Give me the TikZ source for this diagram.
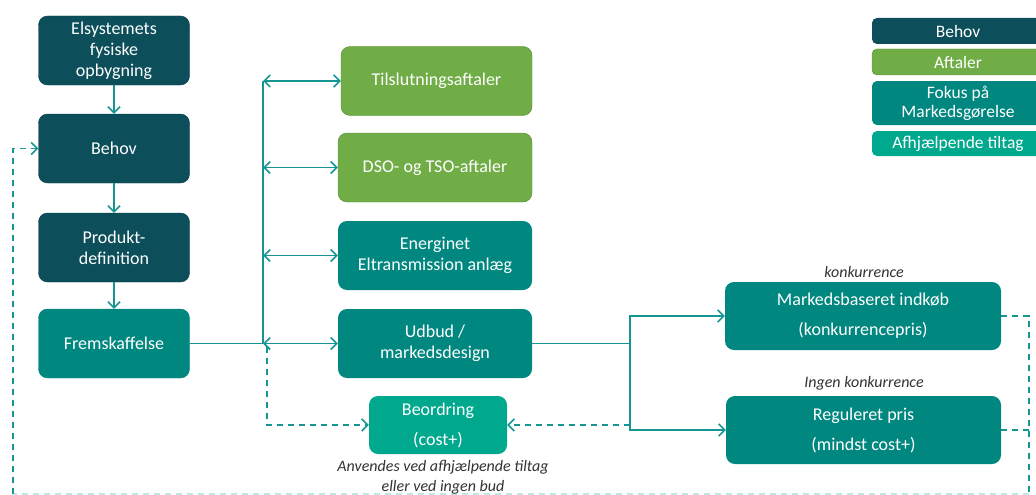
\documentclass[tikz,border=0pt]{standalone}
\usepackage{fontspec}
\setmainfont{Carlito}
\usetikzlibrary{arrows.meta}

\definecolor{behovc}{RGB}{12,78,90}
\definecolor{aftalec}{RGB}{112,173,71}
\definecolor{aftaleb}{RGB}{84,140,52}
\definecolor{fokusc}{RGB}{0,135,127}
\definecolor{tiltagc}{RGB}{0,168,142}
\definecolor{linec}{RGB}{22,150,146}
\definecolor{notec}{RGB}{50,50,50}

\begin{document}
\begin{tikzpicture}[x=1pt, y=-1pt,
    box/.style={rounded corners=9pt, text=white, align=center, inner sep=0pt, font=\fontsize{18}{21}\selectfont},
    behov/.style={box, fill=behovc, draw=behovc!80!black, minimum width=151pt, minimum height=69pt},
    aftale/.style={box, fill=aftalec, draw=aftaleb, minimum width=194pt, minimum height=69pt},
    fokus/.style={box, fill=fokusc, minimum width=194pt, minimum height=69pt},
    tiltag/.style={box, fill=tiltagc, minimum width=138pt, minimum height=58pt},
    legend/.style={rounded corners=5pt, text=white, inner sep=0pt, minimum width=172pt, align=center, font=\fontsize{17.5}{19}\selectfont},
    note/.style={text=notec, font=\fontsize{16}{20}\selectfont\itshape, align=center},
    conn/.style={draw=linec, line width=1.6pt, arrows={-Straight Barb[length=6pt, width=12pt]}},
    twoway/.style={conn, arrows={Straight Barb[length=6pt, width=12pt]-Straight Barb[length=6pt, width=12pt]}},
    plain/.style={draw=linec, line width=1.6pt},
    dashline/.style={draw=linec, line width=1.6pt, dash pattern=on 6pt off 5pt}]
  \useasboundingbox (0,0) rectangle (1036,495);

  % left column
  \node[behov] (fysik) at (114,50.5) {Elsystemets\\fysiske\\opbygning};
  \node[behov] (behov) at (114,148.5) {Behov};
  \node[behov] (produkt) at (114,247.5) {Produkt-\\definition};
  \node[behov, fill=fokusc, draw=fokusc] (frem) at (114,343.5) {Fremskaffelse};

  \draw[conn] (fysik) -- (behov);
  \draw[conn] (behov) -- (produkt);
  \draw[conn] (produkt) -- (frem);

  % middle column
  \node[aftale, minimum width=191pt] (tilslut) at (436.5,81) {Tilslutningsaftaler};
  \node[aftale] (dsotso) at (435,167.5) {DSO- og TSO-aftaler};
  \node[fokus] (energinet) at (435,255.5) {Energinet\\Eltransmission anlæg};
  \node[fokus] (udbud) at (435,343.5) {Udbud /\\markedsdesign};
  \node[tiltag, font=\fontsize{18}{30}\selectfont] (beord) at (438,425) {Beordring\\(cost+)};
  \node[note] (anvend) at (443,477) {Anvendes ved afhjælpende tiltag\\eller ved ingen bud};

  \coordinate (trunk) at (263,343.5);
  \draw[plain] (frem.east) -- (trunk) -- (263,81);
  \draw[twoway] (263,81) -- (tilslut.west);
  \draw[twoway] (263,167.5) -- (dsotso.west);
  \draw[twoway] (263,255.5) -- (energinet.west);
  \draw[twoway] (trunk) -- (udbud.west);

  \draw[dashline, arrows={-Straight Barb[length=6pt, width=12pt]}] (267,347) |- (beord.west);

  % right column
  \node[fokus, minimum width=276pt, minimum height=68pt, font=\fontsize{18}{30}\selectfont] (marked) at (863,316) {Markedsbaseret indkøb\\(konkurrencepris)};
  \node[fokus, minimum width=275pt, minimum height=68pt, font=\fontsize{18}{30}\selectfont] (reguler) at (863.5,430) {Reguleret pris\\(mindst cost+)};
  \node[note] (konk) at (864,272) {konkurrence};
  \node[note] (ingen) at (864,383) {Ingen konkurrence};

  \coordinate (split) at (630,343.5);
  \draw[plain] (udbud.east) -- (split);
  \draw[conn] (split) |- (marked.west);
  \draw[conn] (split) |- (reguler.west);
  \draw[dashline, arrows={-Straight Barb[length=6pt, width=12pt]}] (630,425) -- (beord.east);

  % feedback loop
  \coordinate (loopr) at (1029,494);
  \coordinate (loopl) at (13,494);
  \draw[dashline] (marked.east) -| (loopr);
  \draw[dashline] (reguler.east) -- (1029,430);
  \draw[dashline, draw opacity=0.25] (loopr) -- (loopl);
  \draw[dashline, arrows={-Straight Barb[length=6pt, width=12pt]}] (loopl) |- (behov.west);

  % legend
  \node[legend, fill=behovc, minimum height=26pt] (lbehov) at (958,31) {Behov};
  \node[legend, fill=aftalec, draw=aftaleb, minimum height=26pt] (laftale) at (958,62) {Aftaler};
  \node[legend, fill=fokusc, minimum height=44pt] (lfokus) at (958,103) {Fokus på\\Markedsgørelse};
  \node[legend, fill=tiltagc, minimum height=25pt] (ltiltag) at (958,143.5) {Afhjælpende tiltag};
\end{tikzpicture}
\end{document}
